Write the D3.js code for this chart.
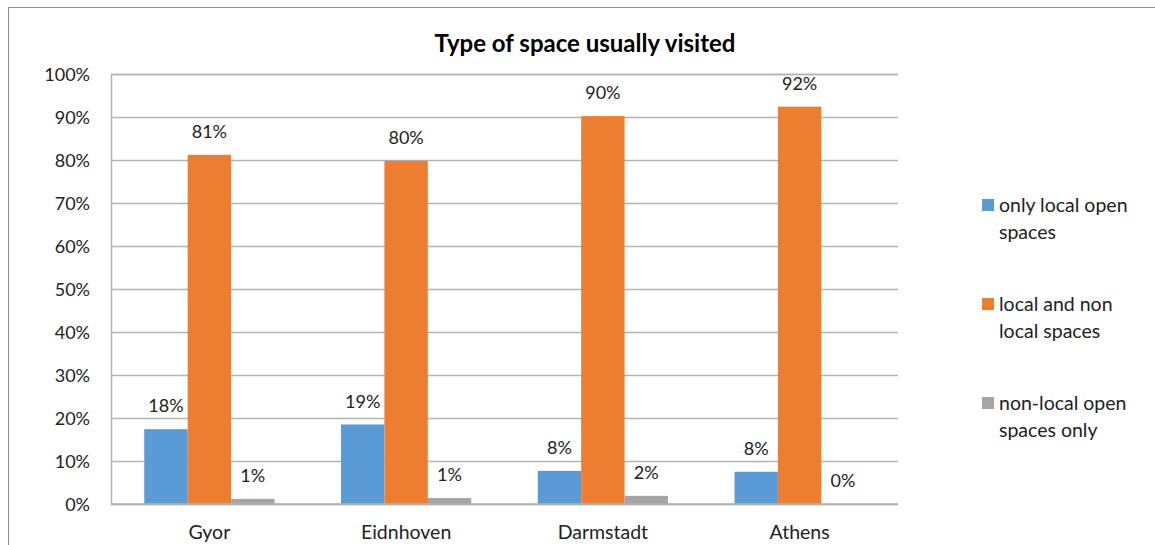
<!DOCTYPE html>
<html><head><meta charset="utf-8">
<script src="https://cdn.jsdelivr.net/npm/d3@7"></script>
<style>body{margin:0;background:#fff;} svg{display:block;}</style>
</head><body>
<svg id="c" width="1155" height="545"></svg>
<script>
const categories = ["Gyor", "Eidnhoven", "Darmstadt", "Athens"];
const seriesNames = ["only local open spaces", "local and non local spaces", "non-local open spaces only"];
const onlyLocal = [17.4, 18.5, 7.7, 7.5];
const localAndNonLocal = [81.2, 79.8, 90.2, 92.4];
const nonLocalOnly = [1.2, 1.4, 1.9, 0];
const valueLabels = [["18%","19%","8%","8%"],["81%","80%","90%","92%"],["1%","1%","2%","0%"]];
const yTicks = [0,10,20,30,40,50,60,70,80,90,100];
const colors = ["#5b9bd5", "#ed7d31", "#a5a5a5"];
const legendLines = [["only local open","spaces"],["local and non","local spaces"],["non-local open","spaces only"]];
const title = "Type of space usually visited";

const series = [onlyLocal, localAndNonLocal, nonLocalOnly];
const font = "Lato, 'Open Sans', sans-serif";
const svg = d3.select("#c");
const W = 1155, H = 545;
const plot = {left:111, right:898, top:74, bottom:504};

svg.append("rect").attr("x",8.5).attr("y",7.5).attr("width",W+20).attr("height",H+20)
  .attr("fill","#fff").attr("stroke","#8c8c8c").attr("stroke-width",1);

const x0 = d3.scaleBand().domain(categories).range([plot.left, plot.right]).paddingInner(0.338).paddingOuter(0.169);
const x1 = d3.scaleBand().domain([0,1,2]).range([0, x0.bandwidth()]);
const y = d3.scaleLinear().domain([0,100]).range([plot.bottom, plot.top]);

// gridlines
const yAxis = d3.axisLeft(y).tickValues(yTicks).tickSize(-(plot.right-plot.left)).tickFormat(d=>d+"%").tickPadding(21);
const ga = svg.append("g").attr("transform",`translate(${plot.left},0)`).call(yAxis);
ga.select(".domain").attr("stroke","#b3b3b3").attr("stroke-width",1.5);
ga.selectAll(".tick line").attr("stroke","#b3b3b3").attr("stroke-width",1.5);
ga.selectAll(".tick text").attr("font-family",font).attr("font-size",18).attr("fill","#222").attr("dy","0.34em");

// bars
const groups = svg.append("g").selectAll("g").data(categories).join("g")
  .attr("transform", c=>`translate(${x0(c)},0)`);
groups.selectAll("rect").data((c,i)=>series.map((s,k)=>({k, v:s[i], lab:valueLabels[k][i]}))).join("rect")
  .attr("x", d=>x1(d.k)).attr("width", x1.bandwidth())
  .attr("y", d=>y(d.v)).attr("height", d=>plot.bottom - y(d.v))
  .attr("fill", d=>colors[d.k]);
groups.selectAll("text").data((c,i)=>series.map((s,k)=>({k, v:s[i], lab:valueLabels[k][i]}))).join("text")
  .attr("x", d=>x1(d.k)+x1.bandwidth()/2).attr("y", d=>y(d.v)-23)
  .attr("dy","0.35em").attr("text-anchor","middle")
  .attr("font-family",font).attr("font-size",18).attr("fill","#222").text(d=>d.lab);

// baseline
svg.append("line").attr("x1",plot.left).attr("x2",plot.right).attr("y1",plot.bottom).attr("y2",plot.bottom)
  .attr("stroke","#b3b3b3").attr("stroke-width",1.5);

// x labels
const xAxis = d3.axisBottom(x0).tickSize(0).tickPadding(21);
const gx = svg.append("g").attr("transform",`translate(0,${plot.bottom})`).call(xAxis);
gx.select(".domain").remove();
gx.selectAll(".tick text").attr("font-family",font).attr("font-size",19.5).attr("fill","#222");

// title
svg.append("text").attr("x",585).attr("y",44).attr("dy","0.35em").attr("text-anchor","middle")
  .attr("font-family",font).attr("font-weight","bold").attr("font-size",24).attr("fill","#000").text(title);

// legend
const leg = svg.append("g");
legendLines.forEach((lines,i)=>{
  const cy = 205 + i*99;
  leg.append("rect").attr("x",982).attr("y",cy-6).attr("width",12).attr("height",12).attr("fill",colors[i]);
  lines.forEach((t,j)=>{
    leg.append("text").attr("x",999).attr("y",cy + j*27).attr("dy","0.35em")
      .attr("font-family",font).attr("font-size",19.5).attr("fill","#222").text(t);
  });
});
</script>
</body></html>
